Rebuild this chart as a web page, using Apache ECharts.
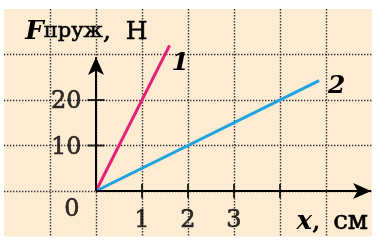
<!DOCTYPE html>
<html><head><meta charset="utf-8">
<script src="https://cdn.jsdelivr.net/npm/echarts@6/dist/echarts.min.js"></script>
<style>html,body{margin:0;padding:0;background:#fff}#c{width:388px;height:247px}</style>
</head><body><div id="c"></div>
<script>
// ---- data ----
const seriesNames = ['1', '2'];
const line1 = [[0, 0], [1.6, 32]];
const line2 = [[0, 0], [4.85, 24.25]];
const xTickValues = [1, 2, 3, 4];
const xLabelValues = [1, 2, 3];
const xLabels = ['1', '2', '3'];
const yTickValues = [10, 20];
const yLabels = ['10', '20'];
const originLabel = '0';
const xMin = -2, xMax = 6, xStep = 1;
const yMin = -10, yMax = 40, yStep = 10;
const xArrowEnd = 5.98;
const yArrowEnd = 29.45;

const FONT = 'DejaVu Serif';
const INK = '#000000';
const heavy = {textBorderColor: INK, textBorderWidth: 0.6};
const labelFont = Object.assign({fontFamily: FONT, fontSize: 24, color: INK}, heavy);

const chart = echarts.init(document.getElementById('c'), null, {renderer: 'canvas'});
chart.setOption({
  animation: false,
  backgroundColor: '#ffffff',
  grid: {left: 4, right: 16, top: 9, bottom: 10.5, show: true, backgroundColor: '#FDEBD2', borderWidth: 0, containLabel: false, outerBoundsMode: 'none'},
  xAxis: {
    type: 'value', min: xMin, max: xMax, interval: xStep,
    axisLine: {show: true, onZero: true, lineStyle: {opacity: 0}},
    axisTick: {show: false},
    axisLabel: {show: false},
    splitLine: {show: true, showMinLine: false, showMaxLine: false, lineStyle: {color: '#333333', width: 1.4, type: [1.4, 1.6]}},
    name: '{x|x}{c|,}{t|см}', nameLocation: 'end', nameGap: -4, nameMoveOverlap: false,
    nameTextStyle: {
      align: 'right', verticalAlign: 'top', padding: [16, 0, 0, 0],
      rich: {
        x: {fontFamily: FONT, fontSize: 26, fontStyle: 'italic', fontWeight: 'bold', color: INK, lineHeight: 30},
        c: Object.assign({fontFamily: FONT, fontSize: 26, color: INK, lineHeight: 30}, heavy),
        t: Object.assign({fontFamily: FONT, fontSize: 26, color: INK, lineHeight: 30, padding: [0, 0, 0, 13]}, heavy)
      }
    }
  },
  yAxis: {
    type: 'value', min: yMin, max: yMax, interval: yStep,
    axisLine: {show: true, onZero: true, lineStyle: {opacity: 0}},
    axisTick: {show: false},
    axisLabel: {show: false},
    splitLine: {show: true, showMinLine: false, showMaxLine: false, lineStyle: {color: '#333333', width: 1.4, type: [1.4, 1.6]}},
    name: '{F|F}{s|пруж}{c|, }{n|Н}', nameLocation: 'end', nameGap: -37, nameMoveOverlap: false,
    nameTextStyle: {
      align: 'center', verticalAlign: 'bottom', padding: [0, 19, 0, 0],
      rich: {
        F: {fontFamily: FONT, fontSize: 26, fontStyle: 'italic', fontWeight: 'bold', color: INK, lineHeight: 28},
        s: Object.assign({fontFamily: FONT, fontSize: 21, color: INK, lineHeight: 28}, heavy),
        c: Object.assign({fontFamily: FONT, fontSize: 25, color: INK, lineHeight: 28}, heavy),
        n: Object.assign({fontFamily: FONT, fontSize: 25, color: INK, lineHeight: 28, padding: [0, 0, 0, 7]}, heavy)
      }
    }
  },
  series: [
    {
      name: 'axes', type: 'line', data: [[0, 0]], showSymbol: false, silent: true, z: 4,
      lineStyle: {opacity: 0},
      markLine: {
        silent: true, symbol: ['none', 'arrow'], symbolSize: [12, 18], animation: false,
        label: {show: false},
        lineStyle: {color: INK, width: 2, type: 'solid'},
        emphasis: {disabled: true},
        data: [
          [{coord: [0, 0]}, {coord: [xArrowEnd, 0]}],
          [{coord: [0, 0]}, {coord: [0, yArrowEnd]}]
        ]
      }
    },
    {
      name: 'xticks', type: 'scatter', symbol: 'rect', symbolSize: [2, 14], silent: true, z: 5,
      itemStyle: {color: INK}, data: xTickValues.map(v => [v, 0])
    },
    {
      name: 'yticks', type: 'scatter', symbol: 'rect', symbolSize: [17, 2], silent: true, z: 5,
      itemStyle: {color: INK}, data: yTickValues.map(v => [0, v])
    },
    {
      name: 'xlabels', type: 'scatter', symbolSize: 1, silent: true, z: 5,
      itemStyle: {color: 'transparent'}, data: xLabelValues.map(v => [v, 0]),
      label: Object.assign({show: true, position: 'inside', offset: [0, 30],
        formatter: p => xLabels[p.dataIndex]}, labelFont)
    },
    {
      name: 'ylabels', type: 'scatter', symbolSize: 1, silent: true, z: 5,
      itemStyle: {color: 'transparent'}, data: yTickValues.map(v => [0, v]),
      label: Object.assign({show: true, position: 'left', distance: 14, offset: [0, 2],
        formatter: p => yLabels[p.dataIndex]}, labelFont)
    },
    {
      name: 'origin', type: 'scatter', symbolSize: 1, silent: true, z: 5,
      itemStyle: {color: 'transparent'}, data: [[0, 0]],
      label: Object.assign({show: true, formatter: originLabel, position: 'left', distance: 16, offset: [0, 19]}, labelFont)
    },
    {
      name: seriesNames[0], type: 'line', data: line1, showSymbol: false, z: 3,
      lineStyle: {color: '#E61F78', width: 3},
      endLabel: {show: true, formatter: '{a}', distance: 0, offset: [2, 18],
        fontFamily: FONT, fontSize: 25, fontStyle: 'italic', fontWeight: 'bold', color: INK}
    },
    {
      name: seriesNames[1], type: 'line', data: line2, showSymbol: false, z: 3,
      lineStyle: {color: '#1EA2E0', width: 3},
      endLabel: {show: true, formatter: '{a}', distance: 0, offset: [9, 6],
        fontFamily: FONT, fontSize: 25, fontStyle: 'italic', fontWeight: 'bold', color: INK}
    }
  ]
});
</script></body></html>
